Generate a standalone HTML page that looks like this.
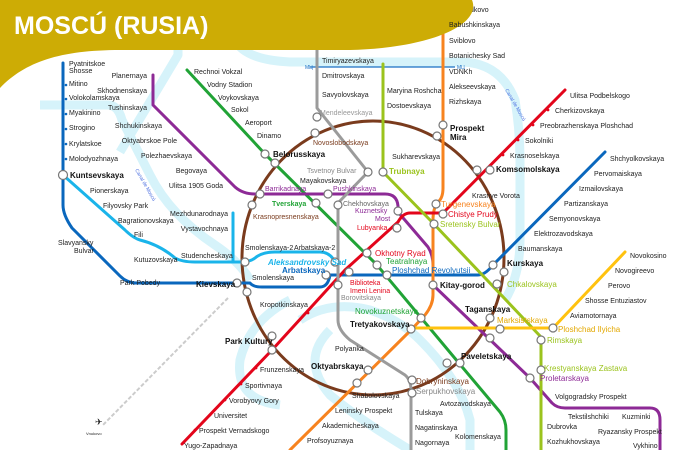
<!DOCTYPE html>
<html><head><meta charset="utf-8"><style>
html,body{margin:0;padding:0;background:#fff;}
svg{display:block;font-family:"Liberation Sans",sans-serif;}
text{font-size:7px;fill:#222;}
.b{font-weight:bold;font-size:8px;fill:#111;}
</style></head><body>
<svg width="700" height="450" viewBox="0 0 700 450" xmlns="http://www.w3.org/2000/svg">
<rect width="700" height="450" fill="#fff"/>
<!-- river -->
<g fill="none" stroke="#d6f3fa" stroke-width="9" stroke-linejoin="round">
<path d="M40,105 H108 Q118,105 122,120 L150,175 Q170,215 215,245 Q240,262 250,280"/>
<path d="M120,152 L178,55 V40"/>
<path d="M235,40 Q245,60 290,62 H360 Q410,62 460,62 Q500,62 515,100 Q520,130 520,160 V240 Q520,275 505,300"/>
<path d="M300,320 Q330,300 370,310 Q400,320 420,340 Q460,380 470,420 V450"/>
<path d="M290,300 Q250,320 240,360 Q235,400 280,405"/>
<path d="M330,330 Q300,360 330,395 Q360,420 410,450"/>
</g>
<text x="135" y="170" style="font-size:5px;fill:#4a6ee0" transform="rotate(60 135 170)">Canal de Moscú</text>
<text x="505" y="90" style="font-size:5px;fill:#4a6ee0" transform="rotate(60 505 90)">Canal de Moscú</text>
<!-- aeroexpress -->
<path d="M228,298 L103,425" stroke="#ccc" stroke-width="2" stroke-dasharray="4,2" fill="none"/>
<!-- MCC -->
<path d="M310,67 H455" stroke="#1a6fc4" stroke-width="1.3"/>
<text x="305" y="69" style="font-size:5px;fill:#1a6fc4">MЦ</text><text x="457" y="69" style="font-size:5px;fill:#1a6fc4">MЦ</text>
<!-- ring -->
<ellipse cx="373" cy="258" rx="131" ry="137" fill="none" stroke="#7a3b1d" stroke-width="3"/>
<g fill="none" stroke-width="3" stroke-linejoin="round" stroke-linecap="round">
<!-- line 3 dark blue -->
<path stroke="#0a67bd" d="M63,63 V205 Q63,215 72,228 L120,276 Q127,283 137,283 H237 L250,283 Q253,287 262,287 H320 Q328,287 330,275 L387,275 H478 Q485,275 493,265 L605,152"/>
<!-- line 4 light blue -->
<path stroke="#1ab4ea" d="M63,175 L125,230 Q133,238 140,240 Q160,245 175,258 Q182,262 195,262 H240 Q250,262 255,258 Q262,252 275,252 H320 Q330,252 335,262"/>
<path stroke="#1ab4ea" d="M233,213 V262"/>
<!-- line 2 green -->
<path stroke="#21a336" d="M187,70 L265,154 L377,265 L458,362 L500,412 Q506,420 506,430 V450"/>
<!-- line 7 purple -->
<path stroke="#8d2a96" d="M153,75 V105 L235,187 Q243,194 255,194 H385 Q397,194 398,206 V212 L428,247 Q433,255 433,265 V285 L530,378 L552,403 Q557,408 565,408 H650 Q660,408 660,420 V450"/>
<!-- line 6 orange -->
<path stroke="#f7831f" d="M443,0 V188 Q443,198 438,202 Q433,208 433,220 V295 Q433,305 425,315 L412,329 L290,450"/>
<!-- line 1 red -->
<path stroke="#e3051b" d="M565,90 L443,213 H410 Q403,213 398,222 L345,270 L272,350 L182,444"/>
<!-- line 9 grey -->
<path stroke="#9b9b9b" d="M317,0 V108 L368,172 L338,203 V320 Q338,330 350,340 L405,375 Q411,380 411,390 V450"/>
<!-- line 10 light green -->
<path stroke="#9bc31d" d="M383,64 V172 L432,222 L541,337 V450"/>
<!-- line 8 yellow -->
<path stroke="#ffc20f" d="M625,252 L553,328 H412"/>
</g>
<!-- station ticks -->
<g fill="#0a67bd"><circle cx="66" cy="85" r="1.3"/><circle cx="66" cy="99" r="1.3"/><circle cx="66" cy="114" r="1.3"/><circle cx="66" cy="129" r="1.3"/><circle cx="66" cy="144" r="1.3"/><circle cx="66" cy="159" r="1.3"/></g>
<g fill="#e3051b"><circle cx="548" cy="110" r="1.4"/><circle cx="533" cy="125" r="1.4"/><circle cx="518" cy="140" r="1.4"/><circle cx="503" cy="155" r="1.4"/><circle cx="308" cy="313" r="1.4"/><circle cx="256" cy="368" r="1.4"/><circle cx="241" cy="384" r="1.4"/><circle cx="225" cy="400" r="1.4"/><circle cx="210" cy="415" r="1.4"/><circle cx="195" cy="430" r="1.4"/></g>
<!-- interchange markers -->
<g fill="#fff" stroke="#777" stroke-width="1.2">
<circle cx="63" cy="175" r="4.5"/><circle cx="265" cy="154" r="4"/><circle cx="275" cy="163" r="4"/><circle cx="317" cy="117" r="4"/><circle cx="315" cy="133" r="4"/>
<circle cx="260" cy="194" r="4"/><circle cx="252" cy="205" r="4"/><circle cx="316" cy="203" r="4"/><circle cx="328" cy="194" r="4"/><circle cx="338" cy="205" r="4"/>
<circle cx="368" cy="172" r="4"/><circle cx="383" cy="172" r="4"/><circle cx="443" cy="125" r="4"/><circle cx="437" cy="136" r="4"/>
<circle cx="477" cy="170" r="4"/><circle cx="490" cy="170" r="4"/><circle cx="436" cy="204" r="4"/><circle cx="443" cy="214" r="4"/><circle cx="434" cy="224" r="4"/>
<circle cx="398" cy="211" r="4"/><circle cx="397" cy="228" r="4"/><circle cx="367" cy="253" r="4"/><circle cx="377" cy="265" r="4"/><circle cx="387" cy="275" r="4"/>
<circle cx="245" cy="262" r="4"/><circle cx="237" cy="283" r="4"/><circle cx="247" cy="292" r="4"/><circle cx="326" cy="275" r="4"/><circle cx="335" cy="262" r="4"/><circle cx="349" cy="272" r="4"/><circle cx="338" cy="285" r="4"/>
<circle cx="433" cy="285" r="4"/><circle cx="493" cy="265" r="4"/><circle cx="504" cy="272" r="4"/><circle cx="497" cy="284" r="4"/>
<circle cx="490" cy="318" r="4"/><circle cx="500" cy="329" r="4"/><circle cx="490" cy="338" r="4"/><circle cx="553" cy="328" r="4"/><circle cx="541" cy="340" r="4"/>
<circle cx="421" cy="318" r="4"/><circle cx="411" cy="329" r="4"/><circle cx="272" cy="336" r="4"/><circle cx="272" cy="350" r="4"/>
<circle cx="368" cy="370" r="4"/><circle cx="357" cy="383" r="4"/><circle cx="412" cy="380" r="4"/><circle cx="412" cy="393" r="4"/>
<circle cx="447" cy="363" r="4"/><circle cx="460" cy="363" r="4"/><circle cx="541" cy="370" r="4"/><circle cx="530" cy="378" r="4"/>
</g>
<!-- header (drawn above text) -->
<text x="449" y="12">Medvedkovo</text>
<path d="M0,0 H472 C482,25 430,48 350,50 H120 C60,50 25,62 0,88 Z" fill="#cdac05"/>
<text x="14" y="34" style="font-size:25px;font-weight:bold;fill:#fff">MOSCÚ (RUSIA)</text>
<!-- labels -->
<g>
<text x="69" y="66">Pyatnitskoe</text><text x="69" y="73">Shosse</text>
<text x="69" y="86">Mitino</text><text x="69" y="100">Volokolamskaya</text><text x="69" y="115">Myakinino</text><text x="69" y="130">Strogino</text><text x="69" y="146">Krylatskoe</text><text x="69" y="161">Molodyozhnaya</text>
<text class="b" x="70" y="178">Kuntsevskaya</text>
<text x="90" y="193">Pionerskaya</text><text x="103" y="208">Filyovsky Park</text><text x="118" y="223">Bagrationovskaya</text>
<text x="134" y="237">Fili</text><text x="134" y="262">Kutuzovskaya</text><text x="181" y="258">Studencheskaya</text>
<text x="58" y="245">Slavyansky</text><text x="74" y="253">Bulvar</text><text x="120" y="285">Park Pobedy</text>
<g text-anchor="end"><text x="147" y="78">Planernaya</text><text x="147" y="93">Skhodnenskaya</text><text x="147" y="110">Tushinskaya</text><text x="162" y="128">Shchukinskaya</text><text x="177" y="143">Oktyabrskoe Pole</text><text x="192" y="158">Polezhaevskaya</text><text x="207" y="173">Begovaya</text><text x="223" y="188">Ulitsa 1905 Goda</text><text x="228" y="216">Mezhdunarodnaya</text><text x="228" y="231">Vystavochnaya</text><text x="440" y="159">Sukharevskaya</text></g>
<text x="194" y="74">Rechnoi Vokzal</text><text x="207" y="87">Vodny Stadion</text><text x="218" y="100">Voykovskaya</text><text x="231" y="112">Sokol</text><text x="245" y="125">Aeroport</text><text x="257" y="138">Dinamo</text>
<text class="b" x="273" y="157">Belorusskaya</text>
<text x="322" y="63">Timiryazevskaya</text><text x="322" y="78">Dmitrovskaya</text><text x="322" y="97">Savyolovskaya</text>
<text x="320" y="115" style="fill:#999">Mendeleevskaya</text><text x="313" y="145" style="fill:#7a3b1d">Novoslobodskaya</text>
<text x="307" y="173" style="fill:#888">Tsvetnoy Bulvar</text><text x="300" y="183">Mayakovskaya</text>
<text x="265" y="191" style="fill:#8d2a96">Barrikadnaya</text><text x="333" y="191" style="fill:#8d2a96">Pushkinskaya</text>
<text x="272" y="206" style="fill:#21a336;font-weight:bold">Tverskaya</text><text x="343" y="206" style="fill:#666">Chekhovskaya</text>
<text x="253" y="219" style="fill:#7a3b1d">Krasnopresnenskaya</text>
<text x="355" y="213" style="fill:#8d2a96">Kuznetsky</text><text x="375" y="221" style="fill:#8d2a96">Most</text><text x="357" y="230" style="fill:#e3051b">Lubyanka</text>
<text x="387" y="93">Maryina Roshcha</text><text x="387" y="108">Dostoevskaya</text><text class="b" x="389" y="174" style="fill:#9bc31d">Trubnaya</text>
<text x="449" y="27">Babushkinskaya</text><text x="449" y="43">Sviblovo</text><text x="449" y="58">Botanichesky Sad</text><text x="449" y="74">VDNKh</text><text x="449" y="89">Alekseevskaya</text><text x="449" y="104">Rizhskaya</text>
<text class="b" x="450" y="131">Prospekt</text><text class="b" x="450" y="140">Mira</text>
<text class="b" x="496" y="172">Komsomolskaya</text>
<text x="570" y="98">Ulitsa Podbelskogo</text><text x="555" y="113">Cherkizovskaya</text><text x="540" y="128">Preobrazhenskaya Ploshchad</text><text x="525" y="143">Sokolniki</text><text x="510" y="158">Krasnoselskaya</text><text x="472" y="198">Krasnye Vorota</text>
<text x="610" y="161">Shchyolkovskaya</text><text x="594" y="176">Pervomaiskaya</text><text x="579" y="191">Izmailovskaya</text><text x="564" y="206">Partizanskaya</text><text x="549" y="221">Semyonovskaya</text><text x="534" y="236">Elektrozavodskaya</text><text x="518" y="251">Baumanskaya</text>
<text x="441" y="207" style="fill:#f7831f;font-size:8px">Turgenevskaya</text><text x="448" y="217" style="fill:#e3051b;font-size:8px">Chistye Prudy</text><text x="440" y="227" style="fill:#9bc31d;font-size:8px">Sretensky Bulvar</text>
<text x="245" y="250">Smolenskaya-2</text><text x="294" y="250">Arbatskaya-2</text>
<text x="268" y="265" style="fill:#1ab4ea;font-style:italic;font-weight:bold;font-size:8px">Aleksandrovsky Sad</text><text x="282" y="273" style="fill:#0a67bd;font-weight:bold;font-size:8px">Arbatskaya</text>
<text x="252" y="280">Smolenskaya</text><text class="b" x="196" y="287">Kievskaya</text>
<text x="375" y="256" style="fill:#e3051b;font-size:8px">Okhotny Ryad</text><text x="386" y="264" style="fill:#21a336;font-size:8px">Teatralnaya</text><text x="392" y="273" style="fill:#0a67bd;font-size:8px">Ploshchad Revolyutsii</text>
<text x="350" y="285" style="fill:#e3051b">Biblioteka</text><text x="350" y="293" style="fill:#e3051b">Imeni Lenina</text><text x="341" y="300" style="fill:#888">Borovitskaya</text>
<text class="b" x="440" y="288">Kitay-gorod</text><text class="b" x="507" y="266">Kurskaya</text><text x="507" y="287" style="fill:#9bc31d;font-size:8px">Chkalovskaya</text>
<text x="630" y="258">Novokosino</text><text x="615" y="273">Novogireevo</text><text x="608" y="288">Perovo</text><text x="585" y="303">Shosse Entuziastov</text><text x="570" y="318">Aviamotornaya</text>
<text x="558" y="332" style="fill:#e3a800;font-size:8px">Ploshchad Ilyicha</text><text x="497" y="323" style="fill:#e3a800;font-size:8px">Marksistskaya</text><text x="547" y="343" style="fill:#9bc31d;font-size:8px">Rimskaya</text>
<text class="b" x="465" y="312">Taganskaya</text><text x="355" y="314" style="fill:#21a336;font-size:8px">Novokuznetskaya</text><text class="b" x="350" y="327">Tretyakovskaya</text>
<text x="260" y="307">Kropotkinskaya</text><text class="b" x="225" y="344">Park Kultury</text><text x="335" y="351">Polyanka</text>
<text class="b" x="311" y="369">Oktyabrskaya</text><text class="b" x="461" y="359">Paveletskaya</text>
<text x="544" y="371" style="fill:#9bc31d;font-size:8px">Krestyanskaya Zastava</text><text x="540" y="381" style="fill:#8d2a96;font-size:8px">Proletarskaya</text>
<text x="416" y="384" style="fill:#7a3b1d;font-size:8px">Dobryninskaya</text><text x="416" y="394" style="fill:#888;font-size:8px">Serpukhovskaya</text>
<text x="260" y="372">Frunzenskaya</text><text x="245" y="388">Sportivnaya</text><text x="229" y="403">Vorobyovy Gory</text><text x="214" y="418">Universitet</text><text x="199" y="433">Prospekt Vernadskogo</text><text x="184" y="448">Yugo-Zapadnaya</text>
<text x="352" y="398">Shabolovskaya</text><text x="335" y="413">Leninsky Prospekt</text><text x="322" y="428">Akademicheskaya</text><text x="307" y="443">Profsoyuznaya</text>
<text x="440" y="406">Avtozavodskaya</text><text x="415" y="415">Tulskaya</text><text x="415" y="430">Nagatinskaya</text><text x="415" y="445">Nagornaya</text><text x="455" y="439">Kolomenskaya</text>
<text x="555" y="399">Volgogradsky Prospekt</text><text x="568" y="419">Tekstilshchiki</text><text x="622" y="419">Kuzminki</text><text x="598" y="434">Ryazansky Prospekt</text><text x="633" y="448">Vykhino</text>
<text x="547" y="429">Dubrovka</text><text x="547" y="444">Kozhukhovskaya</text>
<text x="95" y="425" style="font-size:9px">✈</text><text x="86" y="435" style="font-size:4px">Vnukovo</text>
</g>
</svg>
</body></html>
